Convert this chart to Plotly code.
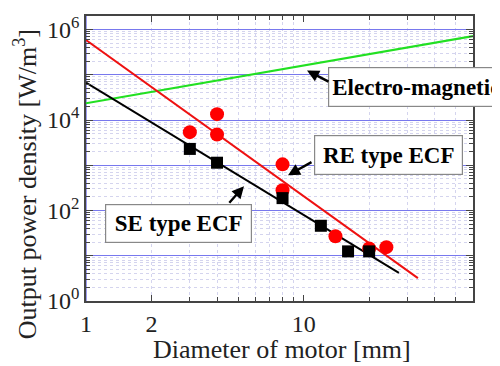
import plotly.graph_objects as go

# ---- data ----
re_x = [3.0, 4.0, 4.0, 8.0, 8.0, 14.0, 20.0, 24.0]
re_y = [5400, 13500, 4800, 1050, 280, 27, 14.5, 15.5]

se_x = [3.0, 4.0, 8.0, 12.0, 16.0, 20.0]
se_y = [2300, 1140, 188, 46, 12.5, 12.5]

re_fit_x = [1.0, 33.5]
re_fit_y = [5.9e5, 3.2]

se_fit_x = [1.0, 27.4]
se_fit_y = [6.7e4, 4.2]

em_x = [1.0, 60.0]
em_y = [2.35e4, 7.2e5]

x_tickvals = [1, 2, 10]
x_ticktext = ["1", "2", "10"]
y_tickvals = [1, 10, 100, 1e3, 1e4, 1e5, 1e6]
y_ticktext = ["10<sup>0</sup>", "", "10<sup>2</sup>", "", "10<sup>4</sup>", "", "10<sup>6</sup>"]

x_minor = [m * 10 ** k for k in range(0, 2) for m in range(2, 10) if m * 10 ** k <= 60]
y_minor = [m * 10 ** k for k in range(0, 7) for m in range(2, 10) if m * 10 ** k <= 2e6]

FONT = "Liberation Serif"

fig = go.Figure()
fig.add_trace(go.Scatter(x=em_x, y=em_y, mode="lines",
                         line=dict(color="#22e022", width=2.2), showlegend=False))
fig.add_trace(go.Scatter(x=re_fit_x, y=re_fit_y, mode="lines",
                         line=dict(color="#ee1111", width=2), showlegend=False))
fig.add_trace(go.Scatter(x=se_fit_x, y=se_fit_y, mode="lines",
                         line=dict(color="black", width=2), showlegend=False))
fig.add_trace(go.Scatter(x=re_x, y=re_y, mode="markers",
                         marker=dict(color="#ff0000", size=14, symbol="circle"), showlegend=False))
fig.add_trace(go.Scatter(x=se_x, y=se_y, mode="markers",
                         marker=dict(color="black", size=12, symbol="square"), showlegend=False))

axis_common = dict(
    showline=True, linecolor="#444", linewidth=1.5, mirror="ticks",
    ticks="inside", tickcolor="#444", zeroline=False,
    tickfont=dict(family=FONT, size=24, color="#222"),
)

fig.update_xaxes(
    type="log", range=[0, 1.7782],
    tickmode="array", tickvals=x_tickvals, ticktext=x_ticktext,
    showgrid=False, ticklen=6,
    minor=dict(tickmode="array", tickvals=x_minor, ticks="inside", ticklen=4,
               tickcolor="#444", showgrid=True, gridcolor="#d4d4ee", griddash="dot", gridwidth=1),
    **axis_common,
)
fig.update_yaxes(
    type="log", range=[0, 6.3],
    tickmode="array", tickvals=y_tickvals, ticktext=y_ticktext,
    showgrid=True, gridcolor="#7878ee", gridwidth=1, ticklen=7,
    minor=dict(tickmode="array", tickvals=y_minor, ticks="inside", ticklen=4,
               tickcolor="#444", showgrid=True, gridcolor="#d4d4ee", griddash="dot", gridwidth=1),
    **axis_common,
)

# axis titles
fig.add_annotation(text="Diameter of motor [mm]", xref="paper", yref="paper",
                   x=(282 - 86) / 387, y=(301 - 350) / 288, xanchor="center", yanchor="middle",
                   showarrow=False, font=dict(family=FONT, size=26, color="#222"))
fig.add_annotation(text="Output power density [W/m<sup>3</sup>]", xref="paper", yref="paper",
                   x=(25 - 86) / 387, y=(301 - 183) / 288, xanchor="center", yanchor="middle",
                   textangle=-90, showarrow=False, font=dict(family=FONT, size=26, color="#222"))

# vertical blue line at x = 10
fig.add_shape(type="line", xref="x", yref="paper", x0=1, x1=1, y0=0, y1=1,
              line=dict(color="#3a3ae0", width=1), layer="below")

box = dict(showarrow=False, xref="paper", yref="paper", xanchor="left", yanchor="top",
           bgcolor="white", bordercolor="#888", borderwidth=1.2,
           font=dict(family=FONT, size=23, color="black"))

fig.add_annotation(text="<b>Electro-magnetic</b>", x=(328 - 86) / 387, y=(301 - 65) / 288,
                   width=200, height=32, borderpad=3, align="left", **box)
fig.add_annotation(text="<b>RE type ECF</b>", x=(314 - 86) / 387, y=(301 - 133) / 288,
                   width=141, height=32, borderpad=3, align="center", **box)
fig.add_annotation(text="<b>SE type ECF</b>", x=(105 - 86) / 387, y=(301 - 203) / 288,
                   width=139, height=31, borderpad=3, align="center", **box)

arrow = dict(text="", showarrow=True, xref="paper", yref="paper", axref="pixel", ayref="pixel",
             arrowhead=2, arrowsize=1, arrowwidth=2.4, arrowcolor="black")
fig.add_annotation(x=(307 - 86) / 387, y=(301 - 68) / 288, ax=23, ay=12, **arrow)
fig.add_annotation(x=(288 - 86) / 387, y=(301 - 174) / 288, ax=25, ay=-14, **arrow)
fig.add_annotation(x=(244 - 86) / 387, y=(301 - 185) / 288, ax=-16, ay=18, **arrow)

# the page body adds an 8px offset, so the figure is 492x358 and margins compensate
fig.update_layout(
    width=492, height=358,
    margin=dict(l=78, r=27, t=5, b=65),
    paper_bgcolor="white", plot_bgcolor="white",
    font=dict(family=FONT),
)

fig.write_html("out.html")
